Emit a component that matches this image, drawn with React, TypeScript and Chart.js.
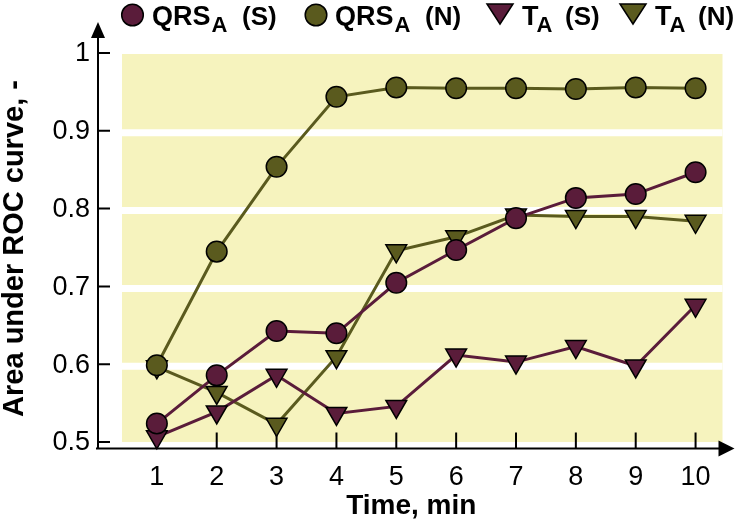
import React, { useEffect, useRef } from 'react';
import { Chart, registerables } from 'chart.js';

Chart.register(...registerables);

// ---- data ----
const times = [1, 2, 3, 4, 5, 6, 7, 8, 9, 10];
const qrsS = [0.525, 0.587, 0.644, 0.641, 0.706, 0.748, 0.789, 0.815, 0.82, 0.848];
const qrsN = [0.6, 0.746, 0.855, 0.945, 0.957, 0.956, 0.956, 0.955, 0.957, 0.956];
const tS = [0.508, 0.54, 0.587, 0.538, 0.547, 0.613, 0.604, 0.624, 0.599, 0.677];
const tN = [0.598, 0.565, 0.524, 0.611, 0.747, 0.765, 0.793, 0.791, 0.791, 0.785];
const yTicks = [0.5, 0.6, 0.7, 0.8, 0.9, 1];
const yTickLabels = ['0.5', '0.6', '0.7', '0.8', '0.9', '1'];
const xTickLabels = ['1', '2', '3', '4', '5', '6', '7', '8', '9', '10'];
const legendMain = ['QRS', 'QRS', 'T', 'T'];
const legendSub = ['A', 'A', 'A', 'A'];
const legendSuffix = ['(S)', '(N)', '(S)', '(N)'];
const yTitle = 'Area under ROC curve, -';
const xTitle = 'Time, min';

const MAROON = '#5a1c3a';
const OLIVE = '#5a5a1e';
const BAND = '#f6f3be';
const FONT = '"Liberation Sans", Arial, Helvetica, sans-serif';

const legendColors = [MAROON, OLIVE, MAROON, OLIVE];
const legendShapes = ['circle', 'circle', 'triangle', 'triangle'];
const legendMarkerX = [132.5, 316, 500, 633];
const legendTextX = [152, 335, 522, 655];
const legendSuffixX = [242, 425, 565, 698];

const decorPlugin = {
  id: 'decor',
  beforeDatasetsDraw(chart: any) {
    const { ctx, chartArea } = chart;
    const x = chart.scales.x;
    const y = chart.scales.y;
    ctx.save();
    // yellow band
    const bl = chartArea.left + 25;
    const br = chartArea.right - 3;
    const top = y.getPixelForValue(yTicks[yTicks.length - 1]);
    const bot = y.getPixelForValue(yTicks[0]) - 1;
    ctx.fillStyle = BAND;
    ctx.fillRect(bl, top, br - bl, bot - top);
    ctx.strokeStyle = '#ffffff';
    ctx.lineWidth = 7;
    for (let i = 1; i < yTicks.length - 1; i++) {
      const py = y.getPixelForValue(yTicks[i]) + 1;
      ctx.beginPath();
      ctx.moveTo(bl, py);
      ctx.lineTo(br, py);
      ctx.stroke();
    }
    // axes
    const ax = chartArea.left + 1;
    const ay = chartArea.bottom + 5.5;
    ctx.strokeStyle = '#000';
    ctx.fillStyle = '#000';
    ctx.lineWidth = 2;
    ctx.beginPath();
    ctx.moveTo(ax, ay);
    ctx.lineTo(ax, 36);
    ctx.moveTo(ax - 2, ay);
    ctx.lineTo(chartArea.right - 4, ay);
    ctx.stroke();
    // arrows
    ctx.beginPath();
    ctx.moveTo(ax, 22);
    ctx.lineTo(ax - 7, 38);
    ctx.lineTo(ax + 7, 38);
    ctx.closePath();
    ctx.fill();
    ctx.beginPath();
    ctx.moveTo(chartArea.right + 9, ay);
    ctx.lineTo(chartArea.right - 7, ay - 8);
    ctx.lineTo(chartArea.right - 7, ay + 8);
    ctx.closePath();
    ctx.fill();
    // tick marks (inside)
    ctx.lineWidth = 2;
    ctx.beginPath();
    for (const v of yTicks) {
      const py = y.getPixelForValue(v) - 1;
      ctx.moveTo(ax, py);
      ctx.lineTo(ax + 12, py);
    }
    for (const t of times) {
      const px = x.getPixelForValue(t);
      ctx.moveTo(px, ay);
      ctx.lineTo(px, ay - 16);
    }
    ctx.stroke();
    ctx.restore();
  },
  afterDraw(chart: any) {
    const { ctx } = chart;
    ctx.save();
    for (let i = 0; i < legendMain.length; i++) {
      const mx = legendMarkerX[i];
      ctx.fillStyle = legendColors[i];
      ctx.strokeStyle = '#000';
      ctx.lineWidth = 1.5;
      ctx.beginPath();
      if (legendShapes[i] === 'circle') {
        ctx.arc(mx, 15, 10.8, 0, Math.PI * 2);
      } else {
        ctx.moveTo(mx - 13, 4);
        ctx.lineTo(mx + 13, 4);
        ctx.lineTo(mx, 24);
        ctx.closePath();
      }
      ctx.fill();
      ctx.stroke();
      // text
      ctx.fillStyle = '#000';
      ctx.textBaseline = 'alphabetic';
      ctx.textAlign = 'left';
      const tx = legendTextX[i];
      ctx.font = `bold 27px ${FONT}`;
      ctx.fillText(legendMain[i], tx, 25);
      const subX = tx + ctx.measureText(legendMain[i]).width + (legendMain[i].length > 1 ? 1 : -2);
      ctx.font = `bold 22px ${FONT}`;
      ctx.fillText(legendSub[i], subX, 31.5);
      ctx.font = `bold 26px ${FONT}`;
      ctx.fillText(legendSuffix[i], legendSuffixX[i], 25);
    }
    ctx.restore();
  },
};

function makeDataset(label: string, values: number[], color: string, shape: string) {
  const tri = shape === 'triangle';
  return {
    label,
    data: times.map((t, i) => ({ x: t, y: values[i] })),
    borderColor: color,
    backgroundColor: color,
    borderWidth: 3,
    pointStyle: shape,
    pointRotation: tri ? 180 : 0,
    pointRadius: tri ? 12 : 10.3,
    pointBackgroundColor: color,
    pointBorderColor: '#000',
    pointBorderWidth: 1.5,
    clip: false as any,
    tension: 0,
  };
}

export default function App() {
  const canvasRef = useRef<HTMLCanvasElement | null>(null);

  useEffect(() => {
    if (!canvasRef.current) return;
    Chart.defaults.font.family = FONT;
    const chart = new Chart(canvasRef.current, {
      type: 'line',
      data: {
        datasets: [
          makeDataset('QRSA (S)', qrsS, MAROON, 'circle'),
          makeDataset('QRSA (N)', qrsN, OLIVE, 'circle'),
          makeDataset('TA (S)', tS, MAROON, 'triangle'),
          makeDataset('TA (N)', tN, OLIVE, 'triangle'),
        ],
      },
      options: {
        animation: false,
        responsive: true,
        maintainAspectRatio: false,
        layout: { padding: { left: 0, top: 54, right: 12, bottom: 0 } },
        plugins: { legend: { display: false }, tooltip: { enabled: false } },
        scales: {
          x: {
            type: 'linear',
            min: 0,
            max: 10.5,
            grid: { display: false, drawTicks: false },
            border: { display: false },
            afterBuildTicks: (scale: any) => {
              scale.ticks = times.map((v) => ({ value: v }));
            },
            afterFit: (scale: any) => {
              scale.height = 81;
            },
            ticks: {
              color: '#000',
              font: { size: 27 },
              padding: 18,
              maxRotation: 0,
              autoSkip: false,
              callback: (v: any) => xTickLabels[times.indexOf(Number(v))] ?? '',
            },
            title: {
              display: true,
              text: xTitle,
              color: '#000',
              font: { size: 28, weight: 'bold', lineHeight: 1 },
              padding: { top: 0, bottom: 4 },
            },
          },
          y: {
            type: 'linear',
            min: 0.5,
            max: 1,
            grid: { display: false, drawTicks: false },
            border: { display: false },
            afterBuildTicks: (scale: any) => {
              scale.ticks = yTicks.map((v) => ({ value: v }));
            },
            afterFit: (scale: any) => {
              scale.width = 97;
            },
            ticks: {
              color: '#000',
              font: { size: 27 },
              padding: 7,
              autoSkip: false,
              callback: (v: any) => {
                const idx = yTicks.findIndex((t) => Math.abs(t - Number(v)) < 1e-9);
                return idx >= 0 ? yTickLabels[idx] : '';
              },
            },
            title: {
              display: true,
              text: yTitle,
              color: '#000',
              font: { size: 29, weight: 'bold', lineHeight: 1 },
              padding: 0,
            },
          },
        },
      },
      plugins: [decorPlugin],
    });
    return () => chart.destroy();
  }, []);

  return (
    <div style={{ position: 'fixed', left: 0, top: 0, width: 739, height: 524, background: '#fff' }}>
      <canvas ref={canvasRef} />
    </div>
  );
}
